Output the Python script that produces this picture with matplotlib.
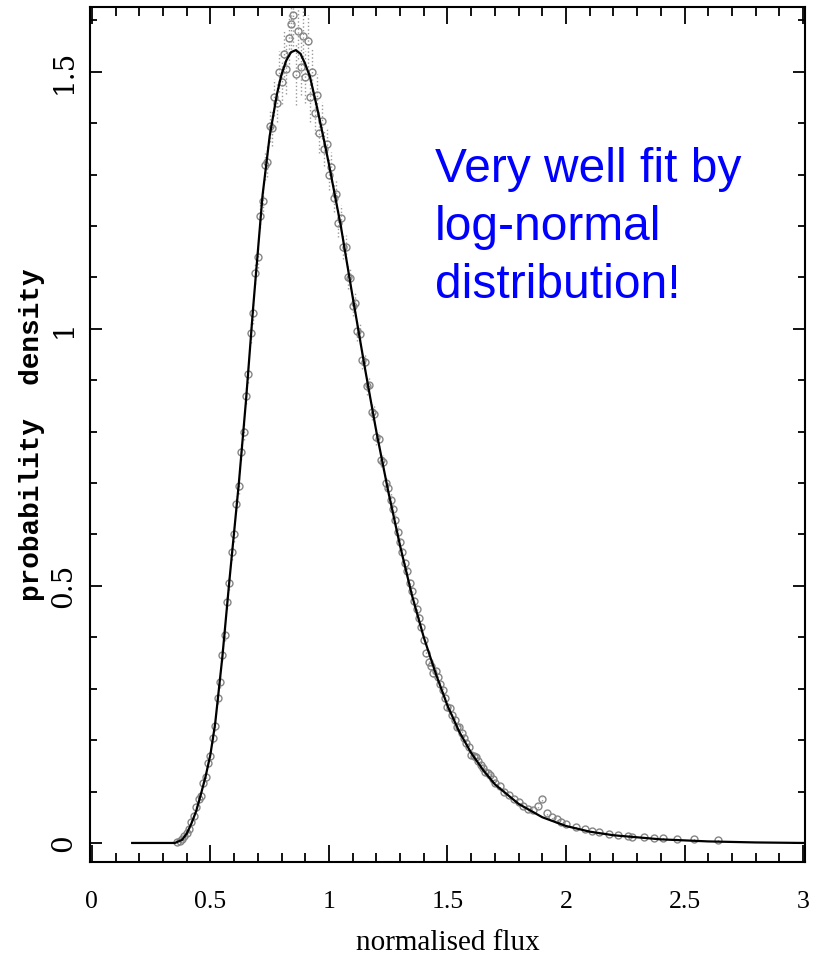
import matplotlib as mpl
mpl.use('Agg')
import matplotlib.pyplot as plt
from matplotlib.ticker import MultipleLocator, FuncFormatter


# fitted log-normal curve
curve_x = [0.17, 0.25, 0.30, 0.35, 0.38, 0.40, 0.42, 0.44, 0.46, 0.48, 0.50,
           0.52, 0.55, 0.58, 0.60, 0.62, 0.65, 0.68, 0.70, 0.72, 0.75, 0.78,
           0.80, 0.82, 0.84, 0.86, 0.88, 0.90, 0.92, 0.95, 0.98, 1.00, 1.05,
           1.10, 1.15, 1.20, 1.25, 1.30, 1.35, 1.40, 1.45, 1.50, 1.55, 1.60,
           1.65, 1.70, 1.80, 1.90, 2.00, 2.10, 2.20, 2.40, 2.60, 2.80, 3.00]
curve_y = [0.000, 0.000, 0.000, 0.000, 0.006, 0.018, 0.038, 0.062, 0.095,
           0.130, 0.172, 0.232, 0.360, 0.510, 0.605, 0.700, 0.860, 1.040,
           1.150, 1.260, 1.375, 1.455, 1.495, 1.522, 1.538, 1.542, 1.535,
           1.515, 1.490, 1.430, 1.365, 1.320, 1.200, 1.062, 0.928, 0.800,
           0.684, 0.578, 0.482, 0.400, 0.330, 0.267, 0.216, 0.175, 0.142,
           0.114, 0.076, 0.050, 0.033, 0.022, 0.015, 0.007, 0.003, 0.001,
           0.000]

# measured histogram points with errors
pts_x = [0.36, 0.37, 0.38, 0.39, 0.40, 0.41, 0.42, 0.43, 0.44, 0.45,
         0.46, 0.47, 0.48, 0.49, 0.50, 0.51, 0.52, 0.53, 0.54, 0.55,
         0.56, 0.57, 0.58, 0.59, 0.60, 0.61, 0.62, 0.63, 0.64, 0.65,
         0.66, 0.67, 0.68, 0.69, 0.70, 0.71, 0.72, 0.73, 0.74, 0.75,
         0.76, 0.77, 0.78, 0.79, 0.80, 0.81, 0.82, 0.83, 0.84, 0.85,
         0.86, 0.87, 0.88, 0.89, 0.90, 0.91, 0.92, 0.93, 0.94, 0.95,
         0.96, 0.97, 0.98, 0.99, 1.00, 1.01, 1.02, 1.03, 1.04, 1.05,
         1.06, 1.07, 1.08, 1.09, 1.10, 1.11, 1.12, 1.13, 1.14, 1.15,
         1.16, 1.17, 1.18, 1.19, 1.20, 1.21, 1.22, 1.23, 1.24, 1.25,
         1.26, 1.27, 1.28, 1.29, 1.30, 1.31, 1.32, 1.33, 1.34, 1.35,
         1.36, 1.37, 1.38, 1.39, 1.40, 1.41, 1.42, 1.43, 1.44, 1.45,
         1.46, 1.47, 1.48, 1.49, 1.50, 1.51, 1.52, 1.53, 1.54, 1.55,
         1.56, 1.57, 1.58, 1.59, 1.60, 1.61, 1.62, 1.63, 1.64, 1.65,
         1.66, 1.67, 1.68, 1.69, 1.70,
         1.72, 1.74, 1.76, 1.78, 1.80, 1.82, 1.84, 1.86, 1.88, 1.90,
         1.92, 1.94, 1.96, 1.98, 2.00,
         2.04, 2.08, 2.11, 2.14, 2.18, 2.22, 2.26, 2.28, 2.33, 2.37,
         2.41, 2.47, 2.54, 2.64]
pts_y = [0.002, 0.004, 0.007, 0.013, 0.020, 0.027, 0.040, 0.052, 0.070, 0.086,
         0.092, 0.116, 0.128, 0.156, 0.170, 0.205, 0.228, 0.281, 0.314, 0.366,
         0.405, 0.468, 0.506, 0.565, 0.600, 0.660, 0.695, 0.760, 0.800, 0.870,
         0.912, 0.992, 1.030, 1.108, 1.140, 1.220, 1.248, 1.318, 1.325, 1.395,
         1.390, 1.450, 1.440, 1.500, 1.480, 1.535, 1.505, 1.565, 1.592, 1.610,
         1.495, 1.580, 1.510, 1.570, 1.490, 1.560, 1.450, 1.500, 1.420, 1.455,
         1.380, 1.405, 1.350, 1.360, 1.300, 1.315, 1.255, 1.262, 1.205, 1.215,
         1.160, 1.160, 1.100, 1.098, 1.045, 1.050, 0.995, 0.990, 0.940, 0.935,
         0.888, 0.890, 0.838, 0.835, 0.790, 0.785, 0.745, 0.740, 0.700, 0.690,
         0.668, 0.650, 0.628, 0.605, 0.585, 0.565, 0.545, 0.528, 0.505, 0.490,
         0.470, 0.455, 0.438, 0.420, 0.395, 0.370, 0.352, 0.345, 0.330, 0.335,
         0.322, 0.310, 0.298, 0.282, 0.265, 0.262, 0.248, 0.240, 0.225, 0.225,
         0.214, 0.205, 0.195, 0.186, 0.172, 0.170, 0.168, 0.160, 0.152, 0.146,
         0.138, 0.137, 0.132, 0.124, 0.116,
         0.110, 0.100, 0.094, 0.085, 0.079, 0.072, 0.066, 0.064, 0.072, 0.085,
         0.058, 0.050, 0.046, 0.040, 0.036,
         0.032, 0.027, 0.024, 0.021, 0.018, 0.016, 0.014, 0.012, 0.011, 0.010,
         0.009, 0.008, 0.007, 0.006]
pts_err = [0.003, 0.003, 0.004, 0.004, 0.005, 0.005, 0.006, 0.006, 0.007, 0.007,
           0.008, 0.008, 0.009, 0.009, 0.010, 0.010, 0.011, 0.011, 0.012, 0.012,
           0.013, 0.013, 0.014, 0.014, 0.015, 0.015, 0.016, 0.016, 0.017, 0.017,
           0.018, 0.019, 0.020, 0.021, 0.022, 0.024, 0.026, 0.028, 0.030, 0.032,
           0.034, 0.036, 0.038, 0.040, 0.042, 0.045, 0.048, 0.050, 0.055, 0.060,
           0.060, 0.055, 0.055, 0.055, 0.050, 0.050, 0.048, 0.045, 0.042, 0.040,
           0.038, 0.036, 0.034, 0.032, 0.030, 0.029, 0.028, 0.027, 0.026, 0.025,
           0.024, 0.023, 0.022, 0.021, 0.020, 0.020, 0.019, 0.019, 0.018, 0.018,
           0.017, 0.017, 0.016, 0.016, 0.015, 0.015, 0.014, 0.014, 0.013, 0.013,
           0.012, 0.012, 0.012, 0.011, 0.011, 0.011, 0.010, 0.010, 0.010, 0.010,
           0.009, 0.009, 0.009, 0.009, 0.008, 0.008, 0.008, 0.008, 0.008, 0.007,
           0.007, 0.007, 0.007, 0.007, 0.007, 0.006, 0.006, 0.006, 0.006, 0.006,
           0.006, 0.006, 0.005, 0.005, 0.005, 0.005, 0.005, 0.005, 0.005, 0.005,
           0.005, 0.005, 0.005, 0.004, 0.004,
           0.004, 0.004, 0.004, 0.004, 0.004, 0.004, 0.004, 0.004, 0.004, 0.004,
           0.003, 0.003, 0.003, 0.003, 0.003,
           0.003, 0.003, 0.003, 0.003, 0.002, 0.002, 0.002, 0.002, 0.002, 0.002,
           0.002, 0.002, 0.002, 0.002]

##########

fig = plt.figure(figsize=(8.27, 9.55), dpi=100)
ax = fig.add_axes([0.1088, 0.0974, 0.8646, 0.8953])

eb = ax.errorbar(pts_x, pts_y, yerr=pts_err, fmt='o', ms=5, mfc='none',
                 mec='#858585', mew=1.0, ecolor='#9a9a9a', elinewidth=1.0,
                 capsize=0, zorder=2)
eb[2][0].set_linestyle(':')

ax.plot(curve_x, curve_y, color='black', lw=1.6, zorder=3)

ax.set_xlim(-0.008, 3.008)
ax.set_ylim(-0.037, 1.626)

ax.xaxis.set_major_locator(MultipleLocator(0.5))
ax.xaxis.set_minor_locator(MultipleLocator(0.1))
ax.yaxis.set_major_locator(MultipleLocator(0.5))
ax.yaxis.set_minor_locator(MultipleLocator(0.1))
fmt = FuncFormatter(lambda v, p: '%g' % round(v, 2))
ax.xaxis.set_major_formatter(fmt)
ax.yaxis.set_major_formatter(fmt)

ax.tick_params(which='both', direction='in', top=True, right=True,
               width=1.3, color='black')
ax.tick_params(axis='x', which='major', length=12, pad=21)
ax.tick_params(axis='x', which='minor', length=6.5)
ax.tick_params(axis='y', which='major', length=8.5, pad=9)
ax.tick_params(axis='y', which='minor', length=5)

for lab in ax.get_xticklabels():
    lab.set_fontfamily('Liberation Serif')
    lab.set_fontsize(18.5)
for lab in ax.get_yticklabels():
    lab.set_fontfamily('DejaVu Serif')
    lab.set_fontsize(20)
    lab.set_rotation(90)
    lab.set_va('center')

for sp in ax.spines.values():
    sp.set_linewidth(1.5)

ax.set_xlabel('normalised flux', family='Liberation Serif', fontsize=21,
              labelpad=12)
ax.set_ylabel('probability  density', family='Liberation Mono',
              fontweight='bold', fontsize=20, labelpad=4)

ax.text(1.447, 1.354, 'Very well fit by\nlog-normal\ndistribution!',
        color='#0000ff', family='Liberation Sans', fontsize=34.5,
        ha='left', va='top', linespacing=1.38)

fig.savefig('out.png', dpi=100)
